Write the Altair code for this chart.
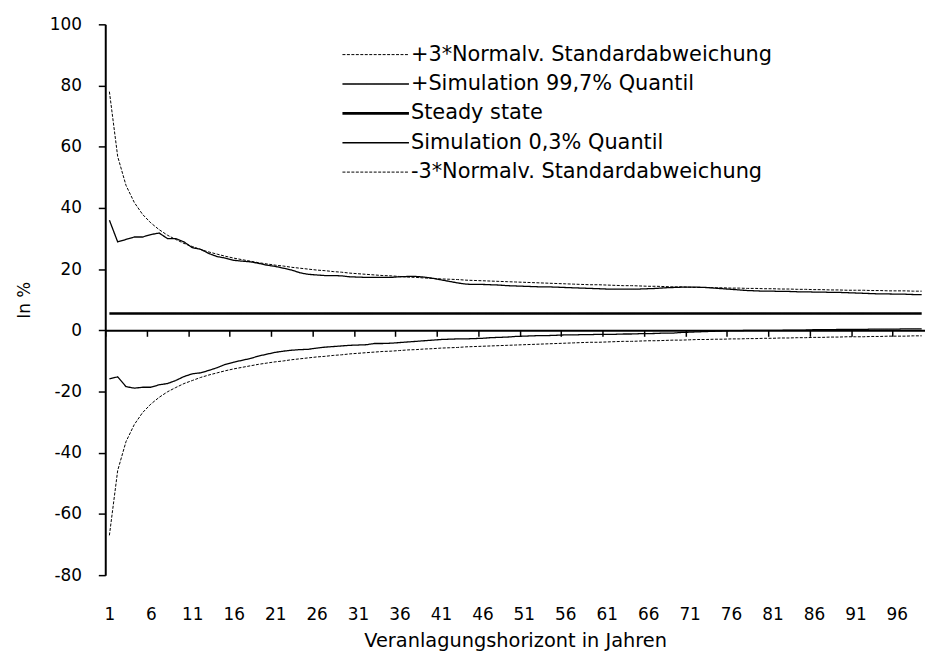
import altair as alt
import pandas as pd

years = list(range(1, 100))

plus_norm = [
    78.0, 56.8, 47.4, 41.8, 37.9, 35.1, 32.9, 31.1, 29.7, 28.4,
    27.4, 26.4, 25.6, 24.9, 24.2, 23.6, 23.1, 22.6, 22.1, 21.7,
    21.3, 21.0, 20.6, 20.3, 20.0, 19.7, 19.5, 19.2, 19.0, 18.7,
    18.5, 18.3, 18.1, 17.9, 17.8, 17.6, 17.4, 17.3, 17.1, 17.0,
    16.8, 16.7, 16.6, 16.4, 16.3, 16.2, 16.1, 16.0, 15.9, 15.8,
    15.7, 15.6, 15.5, 15.4, 15.3, 15.2, 15.1, 15.0, 14.9, 14.9,
    14.8, 14.7, 14.6, 14.6, 14.5, 14.4, 14.4, 14.3, 14.2, 14.2,
    14.1, 14.0, 14.0, 13.9, 13.9, 13.8, 13.8, 13.7, 13.7, 13.6,
    13.6, 13.5, 13.5, 13.4, 13.4, 13.3, 13.3, 13.2, 13.2, 13.1,
    13.1, 13.1, 13.0, 13.0, 12.9, 12.9, 12.9, 12.8, 12.8,
]

plus_sim = [
    36.0, 28.9, 29.7, 30.5, 30.5, 31.3, 31.8, 30.0, 30.0, 28.9,
    27.0, 26.5, 25.1, 24.1, 23.6, 22.9, 22.6, 22.4, 21.9, 21.3,
    20.9, 20.3, 19.7, 18.8, 18.3, 18.1, 17.9, 17.9, 17.8, 17.5,
    17.4, 17.3, 17.3, 17.3, 17.3, 17.5, 17.6, 17.6, 17.4, 17.0,
    16.5, 16.0, 15.5, 15.1, 15.0, 15.0, 14.9, 14.8, 14.6, 14.5,
    14.4, 14.3, 14.2, 14.2, 14.1, 14.0, 13.9, 13.8, 13.7, 13.6,
    13.5, 13.5, 13.5, 13.5, 13.5, 13.6, 13.7, 13.9, 14.0, 14.1,
    14.1, 14.1, 14.0, 13.8, 13.6, 13.4, 13.2, 13.0, 12.9, 12.8,
    12.8, 12.7, 12.7, 12.6, 12.6, 12.5, 12.5, 12.4, 12.4, 12.3,
    12.2, 12.1, 12.0, 11.9, 11.9, 11.8, 11.8, 11.7, 11.7,
]

steady_state = [5.5] * 99

minus_sim = [
    -15.9, -15.2, -18.4, -18.9, -18.6, -18.6, -17.8, -17.4, -16.4, -15.1,
    -14.2, -13.9, -13.1, -12.2, -11.1, -10.4, -9.8, -9.2, -8.4, -7.8,
    -7.2, -6.8, -6.5, -6.3, -6.2, -5.8, -5.5, -5.3, -5.1, -4.9,
    -4.8, -4.7, -4.3, -4.3, -4.2, -4.0, -3.8, -3.6, -3.4, -3.2,
    -3.0, -2.9, -2.8, -2.8, -2.7, -2.6, -2.4, -2.3, -2.2, -2.0,
    -1.9, -1.8, -1.7, -1.7, -1.6, -1.5, -1.5, -1.4, -1.4, -1.3,
    -1.3, -1.3, -1.2, -1.2, -1.1, -1.1, -1.0, -0.9, -0.9, -0.7,
    -0.6, -0.5, -0.4, -0.3, -0.2, -0.1, -0.1, 0.0, 0.0, 0.0,
    0.0, 0.0, 0.1, 0.1, 0.1, 0.2, 0.2, 0.2, 0.3, 0.3,
    0.3, 0.3, 0.4, 0.4, 0.4, 0.4, 0.5, 0.5, 0.5,
]

minus_norm = [
    -67.0, -45.8, -36.4, -30.8, -26.9, -24.1, -21.9, -20.1, -18.7, -17.4,
    -16.4, -15.4, -14.6, -13.9, -13.2, -12.6, -12.1, -11.6, -11.1, -10.7,
    -10.3, -10.0, -9.6, -9.3, -9.0, -8.7, -8.5, -8.2, -8.0, -7.7,
    -7.5, -7.3, -7.1, -6.9, -6.8, -6.6, -6.4, -6.3, -6.1, -6.0,
    -5.8, -5.7, -5.6, -5.4, -5.3, -5.2, -5.1, -5.0, -4.9, -4.8,
    -4.7, -4.6, -4.5, -4.4, -4.3, -4.2, -4.1, -4.0, -3.9, -3.9,
    -3.8, -3.7, -3.6, -3.6, -3.5, -3.4, -3.4, -3.3, -3.2, -3.2,
    -3.1, -3.0, -3.0, -2.9, -2.9, -2.8, -2.8, -2.7, -2.7, -2.6,
    -2.6, -2.5, -2.5, -2.4, -2.4, -2.3, -2.3, -2.2, -2.2, -2.1,
    -2.1, -2.1, -2.0, -2.0, -1.9, -1.9, -1.9, -1.8, -1.8,
]

series_names = [
    "+3*Normalv.  Standardabweichung",
    "+Simulation 99,7% Quantil",
    "Steady state",
    "Simulation 0,3% Quantil",
    "-3*Normalv. Standardabweichung",
]
series_values = [plus_norm, plus_sim, steady_state, minus_sim, minus_norm]

x_label_values = list(range(1, 100, 5))
x_tick_values = [v - 0.5 for v in x_label_values]
y_tick_values = list(range(-80, 101, 20))

rows = []
for name, vals in zip(series_names, series_values):
    for yr, v in zip(years, vals):
        rows.append({"year": yr, "value": v, "series": name})
df = pd.DataFrame(rows)

FONT = "DejaVu Sans"
PLOT_H = 555
zero_offset = -PLOT_H * 80 / 180
x_domain = [0.5, 99.4]

legend = alt.Legend(
    orient="none",
    legendX=262,
    legendY=20,
    title=None,
    symbolType="M-6,0H6",
    symbolSize=124.7,
    symbolStrokeColor="black",
    labelOffset=25,
    labelFontSize=21,
    labelFont=FONT,
    labelColor="black",
    labelLimit=600,
    rowPadding=7.6,
    padding=0,
)

y_enc = alt.Y(
    "value:Q",
    scale=alt.Scale(domain=[-80, 100], nice=False, zero=False),
    axis=alt.Axis(
        values=y_tick_values,
        labelExpr="'' + datum.value",
        domainWidth=2,
        domainColor="black",
        tickColor="black",
        tickSize=7,
        tickWidth=1.5,
        labelPadding=17,
        labelFontSize=17,
        title="In %",
        titleFontSize=17,
        titlePadding=16,
        grid=False,
    ),
)

lines = (
    alt.Chart(df)
    .mark_line(color="black")
    .encode(
        x=alt.X(
            "year:Q",
            scale=alt.Scale(domain=x_domain, nice=False, zero=False),
            axis=alt.Axis(
                orient="bottom",
                values=x_label_values,
                domain=False,
                ticks=False,
                labelPadding=32,
                labelFontSize=17,
                labelFlush=False,
                labelOverlap=False,
                labelBound=False,
                title="Veranlagungshorizont in Jahren",
                titleFontSize=19.5,
                titleY=72,
                titleBaseline="alphabetic",
                grid=False,
            ),
        ),
        y=y_enc,
        strokeDash=alt.StrokeDash(
            "series:N",
            scale=alt.Scale(
                type="ordinal",
                domain=series_names,
                range=[[3, 1.5], [1, 0], [1, 0], [1, 0], [3, 1.5]],
            ),
            legend=legend,
        ),
        strokeWidth=alt.StrokeWidth(
            "series:N",
            scale=alt.Scale(
                type="ordinal",
                domain=series_names,
                range=[1, 1.3, 2.6, 1.3, 1],
            ),
            legend=legend,
        ),
    )
)

zero_axis = (
    alt.Chart(df)
    .mark_line(strokeOpacity=0)
    .encode(
        x=alt.X(
            "year:Q",
            scale=alt.Scale(domain=x_domain, nice=False, zero=False),
            axis=alt.Axis(
                orient="bottom",
                values=x_tick_values,
                offset=zero_offset,
                labels=False,
                domainWidth=2,
                domainColor="black",
                tickColor="black",
                tickSize=6,
                tickWidth=1.5,
                title=None,
                grid=False,
            ),
        ),
        y=y_enc,
        detail="series:N",
    )
)

chart = (
    alt.layer(lines, zero_axis)
    .resolve_scale(x="independent")
    .properties(
        width=826,
        height=PLOT_H,
        autosize=alt.AutoSizeParams(type="none"),
        padding={"left": 98, "top": 14, "right": 0, "bottom": 76},
    )
    .configure_axis(
        labelFont=FONT,
        titleFont=FONT,
        labelColor="black",
        titleColor="black",
        titleFontWeight="normal",
    )
    .configure_view(stroke=None)
)

chart.save("out.html", embed_options={"renderer": "svg", "actions": False})
